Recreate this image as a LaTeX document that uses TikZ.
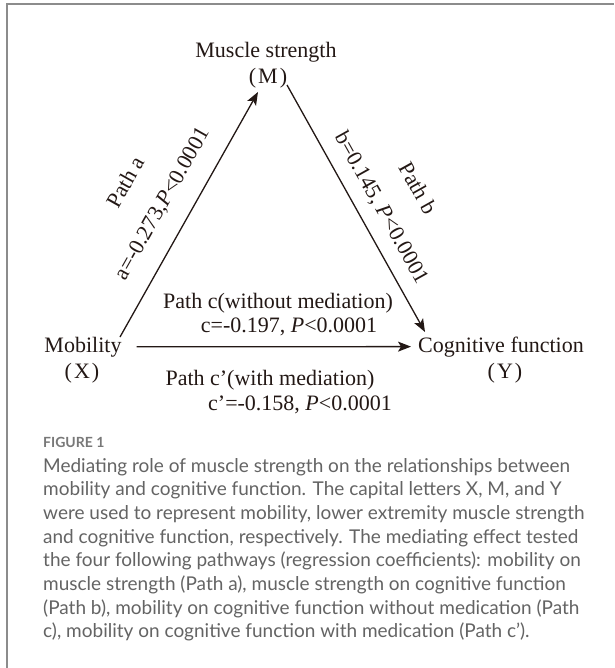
\documentclass[tikz,border=0pt]{standalone}
\usepackage{fontspec}
\setmainfont{Liberation Serif}
\newfontfamily\capfont{Lato}
\usetikzlibrary{arrows.meta}
\definecolor{ink}{RGB}{35,24,21}
\definecolor{capgray}{RGB}{100,100,100}
\definecolor{figgray}{RGB}{120,120,120}
\definecolor{bordgray}{RGB}{140,140,140}
\begin{document}
\begin{tikzpicture}[x=1pt,y=-1pt,
  lbl/.style={font=\fontsize{22}{26}\selectfont, text=ink, inner sep=0pt},
  arr/.style={draw=ink, line width=1.3pt, -{Stealth[length=13pt,width=10pt,inset=3pt]}},
  capline/.style={font=\capfont\fontsize{19}{23.7}\selectfont, text=capgray, inner sep=0pt, anchor=base west}]
\path[use as bounding box, fill=white] (0,0) rectangle (614,668);
\draw[bordgray, line width=1.4pt] (7,668) -- (7,4) -- (614,4);

% variable nodes
\node[lbl, anchor=base] (ms) at (266,58) {Muscle strength};
\node[lbl, anchor=base] (mm) at (268,84) {(\kern2pt M\kern2pt)};
\node[lbl, anchor=base] (xs) at (83,352) {Mobility};
\node[lbl, anchor=base] (xx) at (82,378) {(\kern2pt X\kern2pt)};
\node[lbl, anchor=base] (ys) at (501,352) {Cognitive function};
\node[lbl, anchor=base] (yy) at (505,378) {(\kern2pt Y\kern2pt)};

% path labels
\node[lbl, anchor=base] (pc) at (278,308) {Path c(without mediation)};
\node[lbl, anchor=base] (pcv) at (289,332) {c=-0.197, \textit{P}<0.0001};
\node[lbl, anchor=base] (pd) at (270,385) {Path c’(with mediation)};
\node[lbl, anchor=base] (pdv) at (300,410) {c’=-0.158, \textit{P}<0.0001};
\node[lbl, rotate=60.6] (pa) at (125,182) {Path a};
\node[lbl, rotate=60.6] (pav) at (163,204) {a=-0.273,\textit{P}<0.0001};
\node[lbl, rotate=-60.8] (pb) at (418,188) {Path b};
\node[lbl, rotate=-60.8] (pbv) at (381,208) {b=0.145, \textit{P}<0.0001};

% connectors
\coordinate (a0) at (120,337);
\coordinate (a1) at (258,92);
\coordinate (b0) at (287,85);
\coordinate (b1) at (425,332);
\draw[arr] (a0) -- (a1);
\draw[arr] (b0) -- (b1);
\draw[arr] ([xshift=15pt]xs.east) -- ([xshift=-7pt]ys.west);

% caption
\node[font=\capfont\bfseries\fontsize{14}{16}\selectfont, text=figgray, inner sep=0pt, anchor=base west] (fig) at (43,447) {FIGURE 1};
\node[capline] (c1) at (43,472.0) {Mediating role of muscle strength on the relationships between};
\node[capline] (c2) at (43,495.7) {mobility and cognitive function. The capital letters X, M, and Y};
\node[capline] (c3) at (43,519.4) {were used to represent mobility, lower extremity muscle strength};
\node[capline] (c4) at (43,543.1) {and cognitive function, respectively. The mediating effect tested};
\node[capline] (c5) at (43,566.8) {the four following pathways (regression coefficients): mobility on};
\node[capline] (c6) at (43,590.5) {muscle strength (Path a), muscle strength on cognitive function};
\node[capline] (c7) at (43,614.2) {(Path b), mobility on cognitive function without medication (Path};
\node[capline] (c8) at (43,637.9) {c), mobility on cognitive function with medication (Path c’).};
\end{tikzpicture}
\end{document}
